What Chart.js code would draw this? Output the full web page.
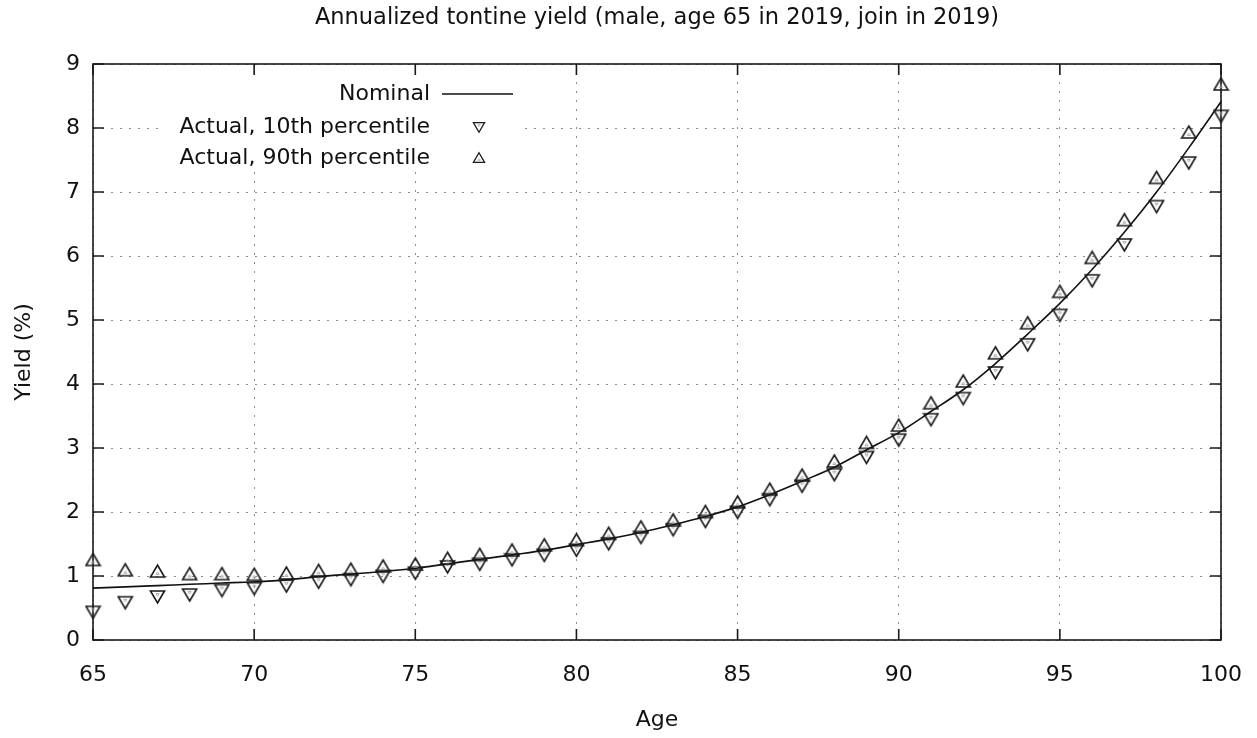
<!DOCTYPE html>
<html>
<head>
<meta charset="utf-8">
<script src="https://cdn.jsdelivr.net/npm/chart.js@4/dist/chart.umd.min.js"></script>
<style>
  body { margin: 0; background: #fff; }
  canvas { display: block; }
</style>
</head>
<body>
<canvas id="myChart" width="1257" height="738"></canvas>
<script>
'use strict';

let ages = [65, 66, 67, 68, 69, 70, 71, 72, 73, 74, 75, 76, 77, 78, 79, 80, 81, 82,
            83, 84, 85, 86, 87, 88, 89, 90, 91, 92, 93, 94, 95, 96, 97, 98, 99, 100];
let nominal = [0.81, 0.83, 0.85, 0.87, 0.89, 0.91, 0.94, 0.99, 1.03, 1.07, 1.12, 1.19, 1.26, 1.33, 1.40, 1.49, 1.58, 1.68,
               1.80, 1.93, 2.08, 2.27, 2.48, 2.70, 2.97, 3.24, 3.57, 3.91, 4.32, 4.78, 5.26, 5.79, 6.37, 7.00, 7.69, 8.41];
let p10 = [0.44, 0.59, 0.68, 0.71, 0.78, 0.81, 0.85, 0.91, 0.95, 1.00, 1.05, 1.15, 1.19, 1.26, 1.33, 1.41, 1.51, 1.61,
           1.73, 1.86, 2.00, 2.20, 2.41, 2.59, 2.86, 3.13, 3.45, 3.78, 4.18, 4.62, 5.08, 5.62, 6.18, 6.78, 7.46, 8.19];
let p90 = [1.25, 1.09, 1.07, 1.03, 1.03, 1.02, 1.04, 1.08, 1.10, 1.15, 1.18, 1.27, 1.33, 1.40, 1.48, 1.56, 1.66, 1.76,
           1.87, 2.00, 2.15, 2.35, 2.57, 2.79, 3.08, 3.35, 3.70, 4.04, 4.48, 4.95, 5.44, 5.97, 6.56, 7.22, 7.93, 8.68];
let seriesNames = ['Nominal', 'Actual, 10th percentile', 'Actual, 90th percentile'];
let chartTitle = 'Annualized tontine yield (male, age 65 in 2019, join in 2019)';

function toPoints(values) {
    let pts = [];
    for (let i = 0; i < ages.length; i++) {
        pts.push({ x: ages[i], y: values[i] });
    }
    return pts;
}

// open triangle marker like gnuplot's, with a tiny inner triangle
function makeMarker(down, s) {
    let c = document.createElement('canvas');
    c.width = Math.ceil(17 * s);
    c.height = Math.ceil(17 * s);
    let g = c.getContext('2d');
    g.translate(c.width / 2, c.height / 2);
    g.scale(s, down ? -s : s);
    g.strokeStyle = '#1a1a1a';
    g.lineWidth = 1.6;
    g.beginPath();
    g.moveTo(0, -6.5);
    g.lineTo(7, 5.5);
    g.lineTo(-7, 5.5);
    g.closePath();
    g.stroke();
    g.strokeStyle = '#9a9a9a';
    g.lineWidth = 0.8;
    g.beginPath();
    g.moveTo(0, 0.5);
    g.lineTo(1.6, 3);
    g.lineTo(-1.6, 3);
    g.closePath();
    g.stroke();
    return c;
}

let downMarker = makeMarker(true, 1);
let upMarker = makeMarker(false, 1);
let downSmall = makeMarker(true, 0.8);
let upSmall = makeMarker(false, 0.8);

Chart.defaults.font.family = "'DejaVu Sans', sans-serif";
Chart.defaults.font.size = 22;
Chart.defaults.color = '#111';

// frame with inward ticks on all four sides, opaque legend box, title over the plot
let framePlugin = {
    id: 'frame',
    beforeDatasetsDraw(chart) {
        let ctx = chart.ctx;
        let a = chart.chartArea;
        let xs = chart.scales.x;
        let ys = chart.scales.y;
        ctx.save();
        ctx.fillStyle = '#fff';
        ctx.fillRect(160, 76, 362, 96);
        ctx.strokeStyle = '#1a1a1a';
        ctx.lineWidth = 1.6;
        ctx.beginPath();
        xs.ticks.forEach(function (t) {
            let px = xs.getPixelForValue(t.value);
            ctx.moveTo(px, a.bottom);
            ctx.lineTo(px, a.bottom - 11);
            ctx.moveTo(px, a.top);
            ctx.lineTo(px, a.top + 11);
        });
        ys.ticks.forEach(function (t) {
            let py = ys.getPixelForValue(t.value);
            ctx.moveTo(a.left, py);
            ctx.lineTo(a.left + 11, py);
            ctx.moveTo(a.right, py);
            ctx.lineTo(a.right - 11, py);
        });
        ctx.stroke();
        ctx.strokeRect(a.left, a.top, a.right - a.left, a.bottom - a.top);
        ctx.restore();
    },
    afterDraw(chart) {
        let ctx = chart.ctx;
        let a = chart.chartArea;
        ctx.save();
        ctx.fillStyle = '#111';
        ctx.textBaseline = 'middle';
        ctx.textAlign = 'center';
        ctx.font = "22.5px 'DejaVu Sans'";
        ctx.fillText(chartTitle, (a.left + a.right) / 2, 18);
        ctx.font = "22px 'DejaVu Sans'";
        ctx.textAlign = 'right';
        let rows = [94, 127, 158];
        for (let i = 0; i < seriesNames.length; i++) {
            ctx.fillText(seriesNames[i], 430, rows[i]);
        }
        ctx.strokeStyle = '#111';
        ctx.lineWidth = 1.5;
        ctx.beginPath();
        ctx.moveTo(442, rows[0]);
        ctx.lineTo(513, rows[0]);
        ctx.stroke();
        ctx.drawImage(downSmall, 479 - downSmall.width / 2, rows[1] - downSmall.height / 2);
        ctx.drawImage(upSmall, 479 - upSmall.width / 2, rows[2] - upSmall.height / 2);
        ctx.restore();
    }
};

let ctx = document.getElementById('myChart').getContext('2d');
let myChart = new Chart(ctx, {
    type: 'scatter',
    data: {
        datasets: [{
            label: seriesNames[0],
            data: toPoints(nominal),
            showLine: true,
            borderColor: '#111',
            borderWidth: 1.6,
            pointRadius: 0,
            cubicInterpolationMode: 'monotone',
            clip: false,
            order: 3
        }, {
            label: seriesNames[1],
            data: toPoints(p10),
            pointStyle: downMarker,
            pointRadius: 6,
            clip: false,
            order: 2
        }, {
            label: seriesNames[2],
            data: toPoints(p90),
            pointStyle: upMarker,
            pointRadius: 6,
            clip: false,
            order: 1
        }]
    },
    options: {
        responsive: false,
        animation: false,
        devicePixelRatio: 1,
        layout: { padding: { left: 0, right: 36, top: 64, bottom: 0 } },
        plugins: {
            legend: { display: false },
            tooltip: { enabled: false },
            title: { display: false }
        },
        scales: {
            x: {
                type: 'linear',
                min: 65,
                max: 100,
                afterFit: function (scale) {
                    scale.height = 98;
                    scale.paddingLeft = 0;
                    scale.paddingRight = 0;
                },
                ticks: { stepSize: 5, padding: 22, maxRotation: 0 },
                grid: { color: '#8c8c8c', lineWidth: 1, drawTicks: false },
                border: { display: false, dash: [2, 7] },
                title: { display: true, text: 'Age', padding: { top: 4.8, bottom: 4.8 } }
            },
            y: {
                type: 'linear',
                min: 0,
                max: 9,
                afterFit: function (scale) {
                    scale.width = 93;
                    scale.paddingTop = 0;
                    scale.paddingBottom = 0;
                },
                ticks: { stepSize: 1, padding: 13 },
                grid: { color: '#8c8c8c', lineWidth: 1, drawTicks: false },
                border: { display: false, dash: [2, 7] },
                title: { display: true, text: 'Yield (%)', padding: { top: 10.8, bottom: 10.8 } }
            }
        }
    },
    plugins: [framePlugin]
});
</script>
</body>
</html>
